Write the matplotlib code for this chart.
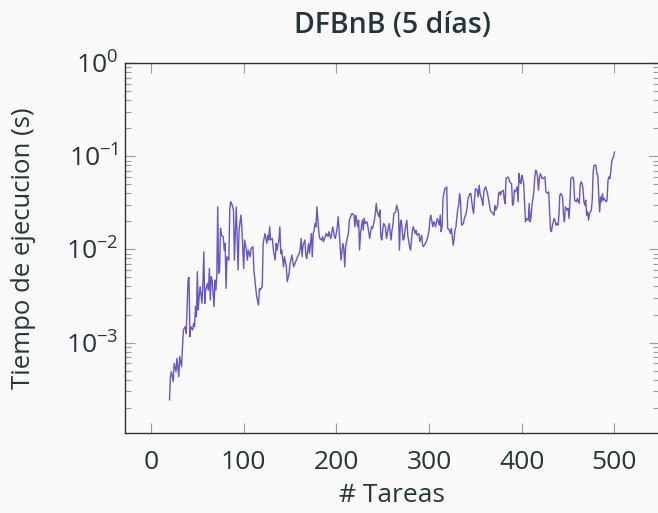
import matplotlib
matplotlib.use('Agg')
import matplotlib.pyplot as plt
from matplotlib.ticker import LogLocator, LogFormatterSciNotation, NullFormatter

# DFBnB, 5 dias: execution time per number of tasks
tareas = [20, 21, 22, 24, 25, 27, 28, 30, 31, 33, 34, 35, 37, 38, 40, 41, 42, 43, 45, 46,
          47, 48, 49, 50, 51, 52, 53, 55, 56, 57, 58, 59, 61, 62, 63, 64, 65, 66, 68, 69,
          70, 71, 72, 73, 74, 75, 76, 78, 79,
          80, 81, 82, 84, 85, 86, 87, 89, 90, 92, 93, 94, 95, 97, 98, 100, 101, 103, 104, 105,
          107, 108, 110, 111, 113, 114, 116, 117, 118, 120, 121, 122, 123, 125, 126, 127, 128, 129, 131, 132,
          134, 135, 136, 138, 139, 140, 141, 143, 144, 146, 147, 149, 150, 152, 153, 154,
          156, 157, 158, 160, 161, 162, 163, 164, 166, 167, 168, 170, 171, 173, 174, 175, 176, 177, 178, 179,
          181, 182, 184, 185, 186, 188, 189, 191, 192, 194, 195, 196, 198, 199, 201, 202, 204, 205, 207, 208,
          209, 210, 212, 213, 214, 216, 217, 219, 220,
          221, 223, 224, 225, 226, 228, 229, 230, 231, 233, 234, 236, 237, 238, 239, 241, 242, 243, 244, 246,
          247, 248, 249, 250, 251, 253, 254, 256, 257, 259, 260, 261, 262, 264, 265, 267, 268, 269, 270, 272,
          273, 274, 276, 277, 279, 280, 282, 283, 285, 286, 287, 289, 290, 292,
          293, 294, 296, 297, 299, 300, 301, 302, 304, 305, 306, 307, 308, 309, 311, 312, 313, 314, 315, 317,
          318, 319, 320, 322, 323, 324, 326, 327, 328, 329, 330, 331, 332, 333, 334, 335, 337, 338, 340, 341,
          342, 344, 345, 347, 348, 349, 350, 352, 353, 354, 355, 357, 358, 359, 360, 361, 363, 364, 366,
          367, 369, 370, 371, 372, 374, 375, 376, 377, 378, 380, 381, 382, 383, 385, 386, 387, 389, 390, 391,
          392, 393, 395, 396, 397, 398, 399, 400, 401, 402, 403, 404, 405, 407, 408, 409, 410, 411, 413, 414,
          415, 416, 417, 418, 419, 420, 422, 423, 425, 426, 428, 429, 430, 431, 432, 433, 435,
          437, 438, 439, 440, 441, 442, 444, 445, 446, 447, 449, 450, 451, 452, 453, 455, 456, 457, 459, 460,
          462, 463, 464, 465, 466, 467, 468, 469, 470, 471, 472, 473, 475, 476, 477, 478, 480, 481, 482, 483,
          484, 485, 486, 487, 488, 489, 491, 492, 493, 494, 495, 496, 497, 498, 499, 500]

tiempo_s = [2.43e-4, 4.31e-4, 4.88e-4, 3.81e-4, 5.99e-4, 4.88e-4, 6.78e-4, 4.31e-4, 7.07e-4, 5.52e-4,
            9.05e-4, 1.365e-3, 1.48e-3, 1.257e-3, 4.69e-3, 5.0e-3, 1.158e-3, 1.48e-3, 1.365e-3, 1.61e-3,
            1.48e-3, 2.43e-3, 1.90e-3, 5.76e-3, 2.24e-3, 3.11e-3, 3.98e-3, 2.64e-3, 4.32e-3, 9.43e-3,
            2.64e-3, 3.66e-3, 4.32e-3, 3.66e-3, 6.25e-3, 2.86e-3, 5.09e-3, 4.69e-3, 2.43e-3, 4.69e-3,
            3.66e-3, 5.09e-3, 2.86e-2, 5.53e-3, 6.0e-3, 1.68e-2, 1.42e-2, 1.37e-2, 9.83e-3,
            1.16e-2, 3.82e-3, 8.34e-3, 7.68e-3, 2.75e-2, 3.24e-2, 3.11e-2, 2.64e-2, 7.68e-3, 2.86e-2,
            1.26e-2, 6.0e-3, 1.61e-2, 2.33e-2, 1.75e-2, 6.25e-3, 1.26e-2, 9.83e-3, 7.68e-3, 9.83e-3,
            8.34e-3, 1.02e-2, 1.07e-2, 6.0e-3, 3.82e-3, 3.11e-3, 2.53e-3, 3.82e-3, 3.66e-3, 3.98e-3,
            1.16e-2, 1.31e-2, 1.48e-2, 1.16e-2, 1.42e-2, 1.26e-2, 1.75e-2, 1.26e-2, 1.31e-2, 9.83e-3,
            7.68e-3, 1.16e-2, 9.83e-3, 1.26e-2, 1.75e-2, 9.05e-3, 9.83e-3, 6.51e-3, 8.34e-3, 6.51e-3,
            4.50e-3, 5.53e-3, 7.07e-3, 8.69e-3, 7.37e-3, 6.51e-3,
            7.37e-3, 7.68e-3, 8.34e-3, 9.05e-3, 1.02e-2, 1.31e-2, 8.34e-3, 1.11e-2, 1.26e-2, 8.69e-3,
            8.0e-3, 1.16e-2, 9.05e-3, 1.48e-2, 8.34e-3, 1.48e-2, 1.61e-2, 1.90e-2, 1.75e-2, 2.86e-2,
            1.55e-2, 1.31e-2, 1.26e-2, 1.37e-2, 1.21e-2, 1.37e-2, 1.48e-2, 1.37e-2, 1.55e-2, 1.31e-2,
            1.48e-2, 1.75e-2, 1.37e-2, 1.31e-2, 1.75e-2, 2.24e-2, 1.07e-2, 7.68e-3, 1.16e-2, 1.02e-2,
            6.51e-3, 1.07e-2, 1.37e-2, 1.48e-2, 2.06e-2, 2.33e-2, 2.43e-2, 2.33e-2, 1.75e-2,
            2.33e-2, 1.75e-2, 2.06e-2, 9.83e-3, 1.48e-2, 2.06e-2, 1.61e-2, 2.15e-2, 1.90e-2, 1.98e-2,
            1.75e-2, 1.31e-2, 1.55e-2, 1.75e-2, 1.68e-2, 2.06e-2, 2.43e-2, 3.11e-2, 2.53e-2, 2.24e-2,
            2.64e-2, 1.37e-2, 1.26e-2, 1.61e-2, 1.90e-2, 1.75e-2, 1.31e-2, 1.68e-2, 1.90e-2, 1.26e-2,
            1.61e-2, 1.82e-2, 2.43e-2, 2.53e-2, 2.98e-2, 2.53e-2, 9.83e-3, 1.90e-2, 2.06e-2, 1.26e-2,
            1.31e-2, 1.61e-2, 2.06e-2, 1.42e-2, 1.07e-2, 9.83e-3, 1.61e-2, 1.75e-2, 1.48e-2, 1.61e-2,
            1.42e-2, 1.48e-2, 1.21e-2, 1.42e-2,
            1.11e-2, 1.07e-2, 1.16e-2, 1.21e-2, 1.42e-2, 1.61e-2, 2.15e-2, 2.33e-2, 1.75e-2, 1.98e-2,
            1.90e-2, 1.75e-2, 1.98e-2, 2.15e-2, 1.82e-2, 2.33e-2, 1.55e-2, 1.75e-2, 3.52e-2, 4.50e-2,
            4.50e-2, 4.69e-2, 1.68e-2, 1.61e-2, 1.48e-2, 1.68e-2, 1.11e-2, 1.31e-2, 1.61e-2, 1.75e-2,
            2.24e-2, 2.75e-2, 2.98e-2, 3.98e-2, 3.24e-2, 1.82e-2, 1.90e-2, 2.15e-2, 2.43e-2, 2.86e-2,
            3.52e-2, 3.98e-2, 3.98e-2, 2.75e-2, 2.43e-2, 3.38e-2, 4.50e-2, 4.32e-2, 3.66e-2, 4.89e-2,
            3.98e-2, 3.38e-2, 2.98e-2, 4.15e-2, 4.50e-2, 4.69e-2, 3.98e-2, 3.52e-2, 2.64e-2,
            2.53e-2, 2.43e-2, 2.33e-2, 2.98e-2, 2.64e-2, 2.98e-2, 3.98e-2, 4.15e-2, 3.82e-2, 4.15e-2,
            4.32e-2, 3.52e-2, 3.11e-2, 5.76e-2, 6.0e-2, 5.76e-2, 5.31e-2, 5.09e-2, 2.98e-2, 3.11e-2,
            4.32e-2, 4.15e-2, 4.69e-2, 3.24e-2, 6.52e-2, 5.31e-2, 5.09e-2, 6.26e-2, 5.76e-2, 5.09e-2,
            3.11e-2, 1.98e-2, 2.15e-2, 2.06e-2, 3.11e-2, 1.98e-2, 2.24e-2, 2.98e-2, 4.15e-2, 6.0e-2,
            7.08e-2, 6.79e-2, 6.0e-2, 4.32e-2, 5.76e-2, 6.52e-2, 5.76e-2, 5.76e-2, 6.0e-2, 4.15e-2,
            3.98e-2, 4.15e-2, 2.64e-2, 1.61e-2, 1.55e-2, 1.82e-2, 2.15e-2,
            1.82e-2, 1.90e-2, 1.82e-2, 2.24e-2, 3.82e-2, 3.98e-2, 3.66e-2, 2.33e-2, 1.98e-2, 2.86e-2,
            2.64e-2, 2.75e-2, 2.15e-2, 3.38e-2, 5.76e-2, 6.0e-2, 5.53e-2, 3.38e-2, 3.24e-2, 3.52e-2,
            3.11e-2, 4.89e-2, 5.31e-2, 5.09e-2, 4.50e-2, 3.24e-2, 2.98e-2, 3.38e-2, 2.33e-2, 2.53e-2,
            2.06e-2, 2.43e-2, 2.64e-2, 3.38e-2, 6.79e-2, 8.01e-2, 8.01e-2, 6.52e-2, 6.26e-2, 3.82e-2,
            2.53e-2, 3.66e-2, 3.24e-2, 3.98e-2, 3.38e-2, 3.52e-2, 3.24e-2, 3.38e-2, 5.53e-2, 6.0e-2,
            5.76e-2, 6.79e-2, 8.70e-2, 9.44e-2, 9.84e-2, 1.11e-1]

x_ticks = [0, 100, 200, 300, 400, 500]

bg = '#fafafa'
fg = '#23373b'
line_color = '#6655cc'

plt.rcParams['font.family'] = ['Open Sans', 'DejaVu Sans']
plt.rcParams['mathtext.fontset'] = 'custom'
plt.rcParams['mathtext.rm'] = 'Open Sans'
plt.rcParams['mathtext.it'] = 'Open Sans:italic'
plt.rcParams['mathtext.bf'] = 'Open Sans:bold'

fig = plt.figure(figsize=(6.58, 5.13), dpi=100, facecolor=bg)
ax = fig.add_axes([0.19, 0.156, 0.8115, 0.721], facecolor=bg)

ax.plot(tareas, tiempo_s, color=line_color, lw=1.0)

ax.set_yscale('log')
ax.set_xlim(-28, 548)
ax.set_ylim(1.07e-4, 1.0)

ax.set_xticks(x_ticks)
ax.yaxis.set_major_locator(LogLocator(base=10, numticks=10))
ax.yaxis.set_major_formatter(LogFormatterSciNotation())
ax.yaxis.set_minor_locator(LogLocator(base=10, subs=range(2, 10), numticks=20))
ax.yaxis.set_minor_formatter(NullFormatter())

for s in ax.spines.values():
    s.set_color(fg)
    s.set_linewidth(1.0)

ax.tick_params(which='both', direction='in', top=True, right=True, color='#9a9a9a', width=0.8)
ax.tick_params(which='major', length=7.5, labelsize=19, labelcolor=fg)
ax.tick_params(axis='x', which='major', pad=12)
ax.tick_params(axis='y', which='major', pad=5)
ax.tick_params(which='minor', length=4.5)

ax.set_xlabel('# Tareas', fontsize=19, color=fg, labelpad=6)
ax.set_ylabel('Tiempo de ejecucion (s)', fontsize=18.5, color=fg, labelpad=21)
ax.set_title('DFBnB (5 días)', fontsize=20.5, fontweight='semibold', color=fg, pad=22)

fig.savefig('out.png', dpi=100, facecolor=bg)
